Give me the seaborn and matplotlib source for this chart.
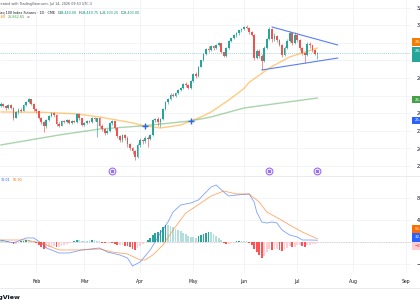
import matplotlib
matplotlib.use("Agg")
import matplotlib.pyplot as plt
from matplotlib.patches import Rectangle
import numpy as np
import pandas as pd
import seaborn as sns

# E-mini Nasdaq 100 futures, daily bars, Jan 12 - Jul 14 2026
holidays = ["2026-01-19", "2026-02-16", "2026-04-03", "2026-05-25",
            "2026-06-19", "2026-07-03", "2026-09-07"]

opens = [26400, 26550, 26420, 26300, 26450, 26300, 25750, 26050, 26200, 26150, 26450, 26650, 26780, 26520,
         26250, 26100, 25700, 25500, 25250, 25600, 25850, 26000, 25900, 25400, 25300, 25550, 25500, 25600, 25450, 25550, 25480, 25950, 25700,
         25350, 25450, 25550, 25500, 25720, 25500, 25700, 25300, 25100, 24850, 25000, 25450, 25550, 25150, 24700, 24450, 24750, 24600, 24250, 24000, 23850, 23500,
         24200, 24500, 24400, 24600, 24550, 24750, 25600, 25650, 25500, 25650, 26250, 26650, 26800, 27050, 26950, 27150, 27300, 27450, 27650, 27600, 27450,
         27850, 28250, 28100, 28650, 29000, 29350, 29650, 29600, 29800, 29700, 29880, 29980, 29450, 29250, 29700, 30100, 30250, 30450, 30550, 30700,
         30800, 30880, 30850, 30600, 30450, 29150, 29550, 29250, 28950, 29700, 30200, 30800, 30200, 30400, 30150, 29900, 29300, 29700, 30100, 30550, 30000,
         30450, 30150, 29700, 29400, 29300, 29950, 29850, 29600, 29340]
highs = [26620, 26600, 26480, 26520, 26500, 26330, 26120, 26300, 26280, 26500, 26720, 26850, 26820, 26560,
         26300, 26150, 25780, 25560, 25680, 25920, 26060, 26050, 25950, 25480, 25600, 25620, 25650, 25660, 25620, 25600, 26000, 26000, 25750,
         25520, 25620, 25640, 25780, 25800, 25750, 25800, 25380, 25150, 25100, 25500, 25620, 25580, 25200, 24780, 24800, 24820, 24680, 24300, 24100, 23900, 24280,
         24600, 24560, 24680, 24700, 24800, 25650, 25750, 25800, 25700, 26300, 26720, 26850, 27120, 27150, 27200, 27380, 27500, 27720, 27750, 27680, 27900,
         28300, 28350, 28700, 29050, 29420, 29700, 29800, 29850, 29880, 29920, 30050, 30000, 29500, 29750, 30150, 30300, 30500, 30600, 30750, 30850,
         30950, 31000, 30900, 30680, 30500, 29650, 29650, 29350, 29800, 30300, 30880, 30850, 30550, 30450, 30200, 29950, 29800, 30200, 30650, 30600, 30600,
         30550, 30200, 29750, 29500, 30050, 30050, 29900, 29650, 29450]
lows = [26330, 26350, 26200, 26250, 26240, 25600, 25700, 25980, 26080, 26100, 26400, 26600, 26480, 26150,
        26000, 25650, 25400, 24950, 25150, 25550, 25800, 25800, 25300, 25200, 25250, 25420, 25450, 25400, 25380, 25420, 25450, 25600, 25250,
        25250, 25380, 25420, 25450, 25580, 24650, 25200, 25000, 24780, 24800, 24950, 25350, 25050, 24600, 24350, 24380, 24500, 24100, 23900, 23700, 23340, 23450,
        24100, 24250, 24300, 24100, 24450, 24700, 25500, 25250, 25200, 25600, 26200, 26550, 26750, 26900, 26900, 27100, 27250, 27400, 27500, 27380, 27400,
        27800, 28000, 28050, 28600, 28950, 29300, 29500, 29550, 29600, 29650, 29800, 29400, 29200, 29200, 29650, 30050, 30200, 30350, 30450, 30600,
        30700, 30780, 30500, 30400, 29050, 29100, 29150, 28450, 28900, 29650, 30150, 30050, 30100, 30050, 29800, 29200, 29250, 29650, 30050, 29900, 29950,
        30050, 29600, 29300, 28850, 29250, 29700, 29500, 29300, 29103]
closes = [26550, 26420, 26300, 26450, 26320, 25750, 26050, 26200, 26150, 26450, 26650, 26780, 26520, 26250,
          26100, 25700, 25500, 25250, 25600, 25850, 26000, 25900, 25400, 25300, 25550, 25500, 25600, 25450, 25550, 25480, 25950, 25700, 25350,
          25450, 25550, 25500, 25720, 25650, 25700, 25300, 25100, 24850, 25000, 25450, 25550, 25150, 24700, 24450, 24750, 24600, 24250, 24000, 23850, 23500, 24200,
          24500, 24400, 24600, 24550, 24750, 25600, 25650, 25500, 25650, 26250, 26650, 26800, 27050, 26950, 27150, 27300, 27450, 27650, 27600, 27450, 27850,
          28250, 28100, 28650, 29000, 29350, 29650, 29600, 29800, 29700, 29880, 29980, 29450, 29250, 29700, 30100, 30250, 30450, 30550, 30700, 30800,
          30880, 30850, 30600, 30450, 29150, 29550, 29250, 28950, 29700, 30200, 30800, 30200, 30400, 30150, 29900, 29300, 29700, 30100, 30550, 30000, 30450,
          30150, 29700, 29400, 29300, 29950, 29850, 29600, 29350, 29403]

# MA Cross indicator (fast = orange, slow = green), values at some bars
ma_fast_dates = ["2026-01-12", "2026-02-05", "2026-02-25", "2026-03-10", "2026-03-27", "2026-04-02", "2026-04-14",
                 "2026-04-24", "2026-04-30", "2026-05-06", "2026-05-12", "2026-05-21", "2026-06-01", "2026-06-03",
                 "2026-06-15", "2026-06-26", "2026-07-14"]
ma_fast = [26070, 26050, 25960, 25785, 25450, 25300, 25160, 25330, 25560, 25780, 26070, 26750, 27400, 27750,
           28570, 29195, 29705]
ma_slow_dates = ["2026-01-12", "2026-02-13", "2026-03-10", "2026-04-02", "2026-04-30", "2026-05-12", "2026-06-01", "2026-07-14"]
ma_slow = [24195, 24760, 25100, 25280, 25560, 25785, 26295, 26865]
cross_dates = ["2026-04-06", "2026-04-30"]
cross_vals = [25290, 25575]

# triangle drawn on the chart
tri_top_dates = ["2026-06-16", "2026-07-24"]
tri_top = [30900, 29875]
tri_bot_dates = ["2026-06-10", "2026-07-24"]
tri_bot = [28455, 29135]

event_dates = ["2026-03-17", "2026-06-15", "2026-07-14"]

# MACD 12 26 9
macd_dates = ["2026-01-12", "2026-01-20", "2026-01-27", "2026-01-30", "2026-02-04", "2026-02-06", "2026-02-13",
              "2026-02-20", "2026-02-27", "2026-03-10", "2026-03-13", "2026-03-20", "2026-03-25", "2026-03-27",
              "2026-04-01", "2026-04-08", "2026-04-14", "2026-04-17", "2026-04-21", "2026-04-24", "2026-04-30",
              "2026-05-05", "2026-05-12", "2026-05-14", "2026-05-19", "2026-05-21", "2026-05-27", "2026-06-03",
              "2026-06-05", "2026-06-08", "2026-06-10", "2026-06-12", "2026-06-16", "2026-06-18", "2026-06-23",
              "2026-06-26", "2026-07-01", "2026-07-06", "2026-07-09", "2026-07-14"]
macd = [36, -18, 73, 73, -18, -109, -200, -200, -145, -109, -182, -236, -291, -436, -364, -145, 164, 364, 545, 673,
        709, 764, 1000, 1036, 909, 836, 855, 873, 727, 545, 364, 345, 364, 345, 218, 127, 91, 36, 36, 32]
signal_dates = ["2026-01-12", "2026-01-27", "2026-02-04", "2026-02-13", "2026-02-27", "2026-03-10", "2026-03-17",
                "2026-03-25", "2026-04-01", "2026-04-06", "2026-04-09", "2026-04-15", "2026-04-21", "2026-04-28",
                "2026-05-06", "2026-05-12", "2026-05-19", "2026-05-27", "2026-06-03", "2026-06-09", "2026-06-12",
                "2026-06-22", "2026-06-26", "2026-07-06", "2026-07-14"]
signal = [36, 36, -18, -145, -145, -127, -182, -218, -327, -327, -236, -55, 218, 527, 709, 836, 927, 873, 873, 727,
          545, 418, 309, 182, 57]
hist = [45, 36, 27, 18, -9, -36, -36, -18, 9, 18, 36, 36, 27, 9,
        -18, -55, -91, -127, -109, -91, -91, -82, -91, -91, -73, -55, -36, -27, -9,
        27, 36, 36, 27, 27, 27, 27, 36, 36, 27, 9,
        -18, -27, -18, -18, -27, -45, -55, -55, -55, -64, -82, -100, -127, -145,
        -109, -73, -36, -9,
        36, 73, 127, 164, 182, 218, 273, 309, 309, 291, 273, 236, 218, 200, 164, 145, 109, 91, 82, 73,
        109, 127, 145, 164, 182, 182, 145, 109, 73, 36,
        -18, -36, -36, -27, -18, 9, 18, 18, 9, 9,
        -18, -55, -127, -182, -236, -291, -255, -182, -127, -145, -127,
        -127, -145, -164, -145, -109, -73, -91, -91, -55, -55,
        -73, -91, -55, -55, -36, -36, -25]

month_names = ["Feb", "Mar", "Apr", "May", "Jun", "Jul", "Aug", "Sep"]
price_ticks = [23000, 24000, 25000, 26000, 27000, 28000, 29000, 30000, 31000, 32000]
price_hidden = [27000, 29000, 30000]   # labels covered by the value tags
macd_ticks = [-400, 0, 400, 800]

# ---------------------------------------------------------------------------
days = pd.bdate_range("2026-01-12", "2026-09-30", freq="C", holidays=holidays)
pos = {d.strftime("%Y-%m-%d"): i for i, d in enumerate(days)}
n = len(closes)
assert len(opens) == len(highs) == len(lows) == n == len(hist)
idx = np.arange(n)
o, h, l, c = map(np.array, (opens, highs, lows, closes))


def xs(dl):
    return [pos[d] for d in dl]


month_pos = [i for i in range(1, len(days)) if days[i].month != days[i - 1].month]

sns.set_theme(style="white")
plt.rcParams["font.family"] = ["DejaVu Sans"]

W, H = 420, 307
fig = plt.figure(figsize=(W / 100, H / 100), dpi=100)
fig.patch.set_facecolor("white")
ax_p = fig.add_axes([0, 1 - 175 / H, 411 / W, 175 / H])
ax_m = fig.add_axes([0, 1 - 273 / H, 411 / W, 97 / H])

UP, DN = "#26a69a", "#ef5350"
GRID = "#f0f2f6"
TXT = "#131722"

for ax in (ax_p, ax_m):
    ax.set_facecolor("white")
    for s in ax.spines.values():
        s.set_visible(False)
    ax.set_xlim(-0.3, 161.9)
    ax.set_xticks(month_pos[:8])
    ax.grid(True, color=GRID, lw=0.6)
    ax.set_axisbelow(True)
    ax.yaxis.tick_right()
    ax.tick_params(axis="y", length=0, pad=4.2, labelsize=3.4, labelcolor=TXT)

# ---- price pane ----
ax_p.set_ylim(22488, 32432)
ax_p.set_yticks(price_ticks)
ax_p.set_yticklabels(["" if v in price_hidden else f"{v:,.2f}" for v in price_ticks])
ax_p.tick_params(axis="x", length=0, labelbottom=False)

col = np.where(c >= o, UP, DN)
ax_p.vlines(idx, l, h, colors=col, lw=0.45, zorder=3)
ax_p.bar(idx, np.maximum(np.abs(c - o), 12), bottom=np.minimum(o, c), width=0.7,
         color=col, lw=0, zorder=4)

sns.lineplot(x=xs(ma_fast_dates), y=ma_fast, ax=ax_p, color="#ff9800", alpha=0.5, lw=1.0, zorder=2)
sns.lineplot(x=xs(ma_slow_dates), y=ma_slow, ax=ax_p, color="#43a047", alpha=0.45, lw=1.0, zorder=2)
ax_p.scatter(xs(cross_dates), cross_vals, marker="+", s=14, color="#2962ff", lw=1.0, zorder=5)
sns.lineplot(x=xs(tri_top_dates), y=tri_top, ax=ax_p, color="#5b7ff0", lw=0.8, zorder=5)
sns.lineplot(x=xs(tri_bot_dates), y=tri_bot, ax=ax_p, color="#5b7ff0", lw=0.8, zorder=5)
ax_p.axhline(closes[-1], color=UP, lw=0.5, ls=(0, (1.5, 1.5)), alpha=0.6, zorder=1)
ax_p.scatter(xs(event_dates), [22716] * len(event_dates), s=24, facecolor="white",
             edgecolor="#9b6ef3", lw=0.8, zorder=6)
ax_p.scatter(xs(event_dates), [22716] * len(event_dates), s=3, marker="s", color="#9b6ef3", zorder=7)
ax_p.set_xlabel("")
ax_p.set_ylabel("")

# ---- MACD pane ----
ax_m.set_ylim(-564, 1200)
ax_m.set_yticks(macd_ticks)
ax_m.set_yticklabels(["\u2212400.00", "", "400.00", "800.00"])
prev = np.r_[hist[0], hist[:-1]]
hv = np.array(hist)
hcol = np.where(hv >= 0, np.where(hv > prev, "#26a69a", "#b2dfdb"),
                np.where(hv < prev, "#ff5252", "#ffcdd2"))
ax_m.axhline(0, color="#b2b5be", lw=0.5, ls=(0, (1, 1.5)), zorder=1)
ax_m.bar(idx, hv, width=0.7, color=hcol, lw=0, zorder=3)
sns.lineplot(x=xs(macd_dates), y=macd, ax=ax_m, color="#2962ff", alpha=0.6, lw=0.6, zorder=4)
sns.lineplot(x=xs(signal_dates), y=signal, ax=ax_m, color="#ff6d00", alpha=0.6, lw=0.6, zorder=4)
ax_m.set_xticklabels(month_names)
ax_m.tick_params(axis="x", length=0, pad=4.5, labelsize=3.3, labelcolor=TXT)
ax_m.set_xlabel("")
ax_m.set_ylabel("")

# pane borders
for yy in (175.5, 288):
    fig.add_artist(plt.Line2D([0, 1], [1 - yy / H] * 2, color="#e0e3eb", lw=0.5))


# ---- legends / header text, cut off at the left edge like the screenshot ----
def run_text(pieces, x_end, y, size, weight="normal"):
    r = fig.canvas.get_renderer()
    ws = []
    for s, colr, gap in pieces:
        t = fig.text(0, 0, s, fontsize=size, fontweight=weight)
        ws.append(t.get_window_extent(r).width)
        t.remove()
    x = x_end - sum(ws) - sum(p[2] for p in pieces)
    for (s, colr, gap), w in zip(pieces, ws):
        fig.text(x / W, 1 - y / H, s, color=colr, fontsize=size, fontweight=weight, ha="left", va="center")
        x += w + gap


TEAL = "#089981"
run_text([("Created with TradingView.com, Jul 14, 2026 09:53 UTC-3", "#50535e", 0)], 92, 4, 2.45)
run_text([("E-mini Nasdaq 100 Index Futures \u00b7 1D \u00b7 CME", TXT, 2.5),
          ("O", TXT, 0), ("29,440.00", TEAL, 1.5), ("H", TXT, 0), ("29,449.75", TEAL, 1.5),
          ("L", TXT, 0), ("29,103.25", TEAL, 1.5), ("C", TXT, 0), ("29,403.00", TEAL, 0)], 140, 12.7, 2.4)
run_text([("MA Cross 50 200", TXT, 2), ("29,704.60", "#f57c00", 2), ("26,862.65", "#43a047", 2),
          ("\u2299", "#787b86", 0)], 30, 16.7, 2.4)
run_text([("MACD 12 26 close 9", TXT, 2), ("\u221224.89", "#f77c80", 2), ("32.01", "#2962ff", 2),
          ("56.90", "#ff6d00", 0)], 22, 180, 2.4)
run_text([("TradingView", TXT, 0)], 21, 297.5, 4.6, weight="bold")

# ---- price scale tags ----
tags = [(38, 46, "#f57c00", "29,704.60", "white"), (47, 62, UP, "29,403.00", "white"),
        (96, 103.5, "#43a047", "26,862.65", "white"), (116.5, 123.5, "#2962ff", "25,573.50", "white"),
        (225, 232.5, "#ff6d00", "56.90", "white"), (233, 241.5, "#2962ff", "32.01", "white"),
        (242, 250, "#ffcdd2", "\u221224.89", "#d32f2f")]
for y0, y1, fc, txt, tc in tags:
    fig.add_artist(Rectangle((412 / W, 1 - y1 / H), 10 / W, (y1 - y0) / H, transform=fig.transFigure,
                             facecolor=fc, edgecolor="none", zorder=10))
    fig.text(414.5 / W, 1 - (y0 + 4) / H, txt, color=tc, fontsize=2.8, ha="left", va="center", zorder=11)

fig.savefig("out.png", dpi=100)
